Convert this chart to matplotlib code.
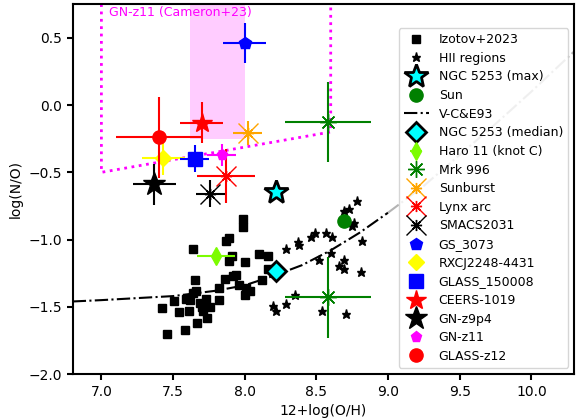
import matplotlib
matplotlib.use('Agg')
import matplotlib.pyplot as plt
from matplotlib.legend_handler import HandlerTuple

# Izotov+2023 sample: 12+log(O/H), log(N/O)
izo_oh = [7.99, 7.99, 7.87, 7.89, 7.64, 7.91, 7.89, 8.10, 8.16, 8.00,
          7.94, 7.92, 7.86, 7.65, 8.12, 8.16, 7.82, 7.96, 8.01, 8.04,
          8.00, 7.66, 7.64, 7.59, 7.51, 7.62, 7.73, 7.82, 7.69, 7.70,
          7.76, 7.42, 7.54, 7.61, 7.71, 7.74, 7.67, 7.58, 7.46]
izo_no = [-0.85, -0.91, -1.01, -0.99, -1.07, -1.12, -1.16, -1.11, -1.12, -1.17,
          -1.26, -1.27, -1.29, -1.30, -1.30, -1.22, -1.36, -1.34, -1.36, -1.38,
          -1.41, -1.38, -1.40, -1.44, -1.46, -1.45, -1.44, -1.45, -1.47, -1.50,
          -1.50, -1.51, -1.54, -1.53, -1.53, -1.58, -1.62, -1.67, -1.70]

# HII regions
hii_oh = [8.78, 8.73, 8.69, 8.76, 8.75, 8.82, 8.57, 8.61, 8.49, 8.46,
          8.37, 8.38, 8.29, 8.60, 8.52, 8.69, 8.66, 8.69, 8.81, 8.20,
          8.22, 8.29, 8.35, 8.54, 8.71]
hii_no = [-0.71, -0.77, -0.79, -0.88, -0.90, -1.01, -0.95, -0.98, -0.95, -0.98,
          -1.02, -1.04, -1.07, -1.10, -1.15, -1.15, -1.20, -1.22, -1.24, -1.49,
          -1.53, -1.48, -1.41, -1.53, -1.55]

# V-C&E93 relation
vce_oh = [6.8, 7.0, 7.5, 7.8, 8.0, 8.2, 8.4, 8.6, 8.8, 9.0]
vce_no = [-1.46, -1.45, -1.42, -1.38, -1.34, -1.27, -1.19, -1.08, -0.95, -0.80]
vce_ext_oh = [9.0, 9.25, 9.5, 9.75, 10.0, 10.3]
vce_ext_no = [-0.80, -0.60, -0.37, -0.14, 0.10, 0.40]

# single local objects
ngc_max = [8.22, -0.645]
ngc_med = [8.22, -1.23]
sun = [8.69, -0.86]
haro = [7.80, -1.12]
haro_err = 0.13

# objects drawn with asterisk markers: x, xerr, y, yerr
mrk_oh = [8.58, 8.58]
mrk_no = [-0.125, -1.43]
mrk_err = [0.3, 0.3]
ast_names = ['Sunburst', 'Lynx arc', 'SMACS2031']
ast_oh = [8.02, 7.87, 7.76]
ast_oh_err = [0.10, 0.20, 0.10]
ast_no = [-0.21, -0.53, -0.66]
ast_no_err = [0.09, 0.20, 0.10]

# high-z galaxies
gal_names = ['GS_3073', 'RXCJ2248-4431', 'GLASS_150008', 'CEERS-1019', 'GN-z9p4', 'GN-z11', 'GLASS-z12']
gal_oh = [8.00, 7.43, 7.65, 7.70, 7.37, 7.84, 7.40]
gal_oh_err = [0.15, 0.15, 0.10, 0.15, 0.15, 0.10, 0.30]
gal_no = [0.46, -0.39, -0.40, -0.13, -0.59, -0.37, -0.24]
gal_no_err = [0.15, 0.13, 0.10, 0.15, 0.15, 0.08, 0.30]

fig = plt.figure(figsize=(5.79, 4.18), dpi=100)
ax = fig.add_axes([0.1256, 0.105, 0.8664, 0.885])

# GN-z11 Cameron+23 region
ax.fill_between([7.62, 8.0], -0.25, 0.75, color='magenta', alpha=0.2, lw=0)
ax.plot([7.0, 7.0, 8.6, 8.6], [0.75, -0.5, -0.2, 0.75], ':', color='magenta', lw=2)
ax.text(7.05, 0.685, 'GN-z11 (Cameron+23)', color='magenta', fontsize=9, va='center')

h = {}
h['Izotov+2023'], = ax.plot(izo_oh, izo_no, 's', color='k', ms=6, ls='none')
h['HII regions'], = ax.plot(hii_oh, hii_no, '*', color='k', ms=6.5, ls='none')
h['NGC 5253 (max)'], = ax.plot(ngc_max[0], ngc_max[1], '*', color='cyan', mec='k', mew=2, ms=18, zorder=5)
h['Sun'], = ax.plot(sun[0], sun[1], 'o', color='green', ms=9.5)
h['V-C&E93'], = ax.plot(vce_oh, vce_no, '-.', color='k', lw=1.5)
ax.plot(vce_ext_oh, vce_ext_no, '-.', color='0.7', lw=1.5)
h['NGC 5253 (median)'] = ax.errorbar(ngc_med[0], ngc_med[1], xerr=0.05, fmt='D', color='cyan',
                                     mec='k', mew=2, ms=10, zorder=5)
h['Haro 11 (knot C)'] = ax.errorbar(haro[0], haro[1], xerr=haro_err, fmt='d', color='lawngreen', ms=9)

ax.errorbar(mrk_oh, mrk_no, xerr=mrk_err, yerr=mrk_err, fmt='none', ecolor='green', elinewidth=1.5)
h['Mrk 996'], = ax.plot(mrk_oh, mrk_no, ls='none', marker=(8, 2, 0), ms=12, color='green', mew=1)

ast_colors = ['orange', 'red', 'black']
for i in range(3):
    ax.errorbar(ast_oh[i], ast_no[i], xerr=ast_oh_err[i], yerr=ast_no_err[i], fmt='none',
                ecolor=ast_colors[i], elinewidth=1.5)
    big, = ax.plot(ast_oh[i], ast_no[i], 'x', ms=14, mew=1, color=ast_colors[i])
    small, = ax.plot(ast_oh[i], ast_no[i], ls='none', marker=(8, 2, 0), ms=8, mew=1, color=ast_colors[i])
    h[ast_names[i]] = (big, small)

gal_marker = ['p', 'D', 's', '*', '*', 'p', 'o']
gal_size = [9, 8, 9.5, 15, 17, 8, 9.5]
gal_color = ['blue', 'yellow', 'blue', 'red', 'black', 'magenta', 'red']
for i in range(len(gal_names)):
    ax.errorbar(gal_oh[i], gal_no[i], xerr=gal_oh_err[i], yerr=gal_no_err[i], fmt='none',
                ecolor=gal_color[i], elinewidth=1.5)
    h[gal_names[i]], = ax.plot(gal_oh[i], gal_no[i], gal_marker[i], color=gal_color[i], ms=gal_size[i])

order = ['Izotov+2023', 'HII regions', 'NGC 5253 (max)', 'Sun', 'V-C&E93', 'NGC 5253 (median)',
         'Haro 11 (knot C)', 'Mrk 996', 'Sunburst', 'Lynx arc', 'SMACS2031', 'GS_3073',
         'RXCJ2248-4431', 'GLASS_150008', 'CEERS-1019', 'GN-z9p4', 'GN-z11', 'GLASS-z12']
ax.legend([h[k] for k in order], order, loc='lower right', fontsize=9, labelspacing=0.45,
          handler_map={tuple: HandlerTuple(ndivide=1)})

ax.set_xlim(6.8, 10.3)
ax.set_ylim(-2.0, 0.75)
ax.set_xlabel('12+log(O/H)')
ax.set_ylabel('log(N/O)')
for s in ax.spines.values():
    s.set_linewidth(1.5)
ax.tick_params(width=1.5, length=4)

fig.savefig('out.png', dpi=100)
